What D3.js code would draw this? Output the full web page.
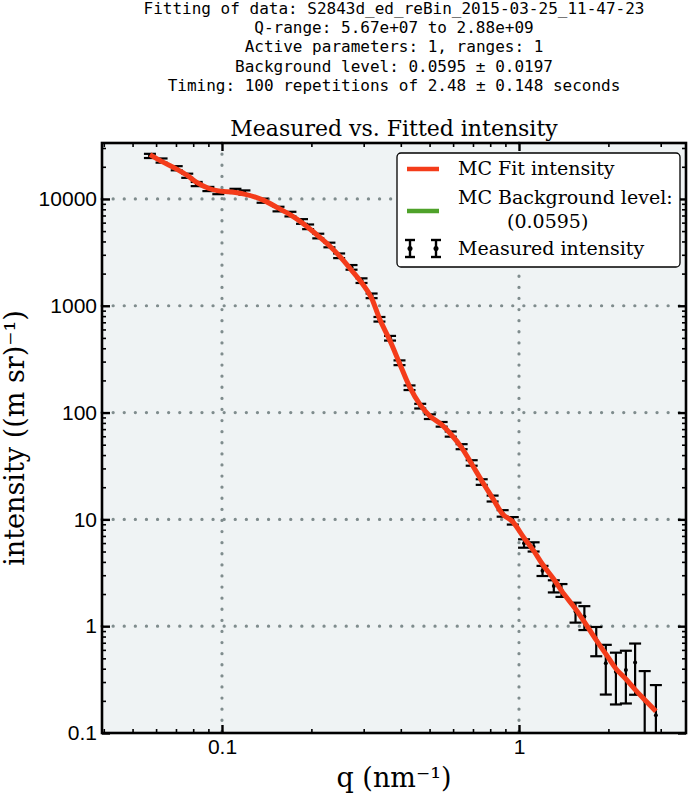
<!DOCTYPE html>
<html>
<head>
<meta charset="utf-8">
<script src="https://cdn.jsdelivr.net/npm/d3@7"></script>
<style>
body { margin: 0; background: #fff; }
</style>
</head>
<body>
<div id="chart"></div>
<script>

var headerLines = [
    "Fitting of data: S2843d_ed_reBin_2015-03-25_11-47-23",
    "Q-range: 5.67e+07 to 2.88e+09",
    "Active parameters: 1, ranges: 1",
    "Background level: 0.0595 \u00b1 0.0197",
    "Timing: 100 repetitions of 2.48 \u00b1 0.148 seconds"
];

// q in nm^-1
var qValues = [0.0572, 0.0626, 0.0704, 0.0764, 0.0822, 0.090, 0.0972, 0.111, 0.119, 0.137,
               0.155, 0.170, 0.186, 0.195, 0.211, 0.230, 0.248, 0.273, 0.295, 0.319,
               0.339, 0.368, 0.396, 0.428, 0.465, 0.501, 0.549, 0.589, 0.641, 0.693,
               0.749, 0.815, 0.881, 0.953, 1.04, 1.12, 1.20, 1.31, 1.39, 1.55,
               1.66, 1.82, 1.96, 2.12, 2.29, 2.46, 2.65, 2.89];
var measured = [25300, 22900, 19400, 16500, 13800, 12400, 11600, 11900, 11500, 9640,
                8050, 7220, 6160, 5490, 4500, 3710, 2940, 2290, 1720, 1240,
                748, 497, 293, 171, 115, 91.6, 77.7, 63, 48, 33.8,
                22.4, 15.7, 11.4, 9.72, 5.97, 5.55, 3.31, 2.38, 2.18, 1.37,
                1.23, 0.753, 0.449, 0.375, 0.389, 0.458, 0.20, 0.147];
var measuredErr = [1140, 1030, 870, 740, 620, 560, 520, 540, 520, 430,
                   400, 360, 310, 275, 225, 185, 147, 115, 86, 62,
                   37, 25, 15, 8.5, 5.8, 4.6, 3.9, 3.5, 2.6, 2.0,
                   1.35, 1.0, 0.8, 0.78, 0.54, 0.55, 0.36, 0.31, 0.30, 0.29,
                   0.31, 0.23, 0.22, 0.19, 0.20, 0.23, 0.18, 0.134];
var fitValues = [26000, 22500, 19000, 16600, 14300, 12600, 11900, 11500, 11100, 9800,
                 8200, 7100, 6000, 5400, 4500, 3650, 2950, 2150, 1650, 1180,
                 760, 470, 290, 175, 118, 93, 77, 63, 47, 33,
                 23, 15.8, 11.2, 9.5, 6.7, 5.1, 3.8, 2.75, 2.15, 1.45,
                 1.1, 0.74, 0.55, 0.40, 0.32, 0.255, 0.205, 0.16];
var backgroundLevel = 0.0595;

var xMajor = [0.1, 1];
var yMajor = [0.1, 1, 10, 100, 1000, 10000];

var W = 692, H = 794;
var plotLeft = 102, plotRight = 686, plotTop = 143, plotBottom = 733;
var red = "#f43c1a", green = "#4fa22a";
var serif = "'DejaVu Serif', serif";

var x = d3.scaleLog().domain([0.03945, 3.65]).range([plotLeft, plotRight]);
var y = d3.scaleLog().domain([0.1, 33400]).range([plotBottom, plotTop]);

var xMinor = x.ticks().filter(function(d) { return xMajor.indexOf(+d.toPrecision(6)) < 0; });
var yMinor = y.ticks().filter(function(d) { return yMajor.indexOf(+d.toPrecision(6)) < 0; });

var svg = d3.select("#chart").append("svg")
    .attr("width", W)
    .attr("height", H);

svg.append("defs").append("clipPath")
    .attr("id", "plotClip")
    .append("rect")
    .attr("x", plotLeft).attr("y", plotTop)
    .attr("width", plotRight - plotLeft).attr("height", plotBottom - plotTop);

// header block
svg.append("g")
    .selectAll("text")
    .data(headerLines)
    .enter().append("text")
    .attr("x", (plotLeft + plotRight) / 2)
    .attr("y", function(d, i) { return 14 + i * 19.2; })
    .attr("text-anchor", "middle")
    .style("font-family", "'DejaVu Sans Mono', monospace")
    .style("font-size", "16px")
    .text(function(d) { return d; });

svg.append("text")
    .attr("x", (plotLeft + plotRight) / 2)
    .attr("y", 136)
    .attr("text-anchor", "middle")
    .style("font-family", serif)
    .style("font-size", "22px")
    .text("Measured vs. Fitted intensity");

svg.append("rect")
    .attr("x", plotLeft).attr("y", plotTop)
    .attr("width", plotRight - plotLeft).attr("height", plotBottom - plotTop)
    .style("fill", "#eff3f4");

// dotted grid at the decades
var grid = svg.append("g")
    .style("stroke", "#7f8c8d")
    .style("stroke-width", 3.2)
    .style("stroke-linecap", "round")
    .style("stroke-dasharray", "0.1,11");
grid.selectAll(".gx").data(xMajor).enter().append("line")
    .attr("x1", function(d) { return x(d); }).attr("x2", function(d) { return x(d); })
    .attr("y1", plotTop).attr("y2", plotBottom);
grid.selectAll(".gy").data(yMajor.slice(1)).enter().append("line")
    .attr("y1", function(d) { return y(d); }).attr("y2", function(d) { return y(d); })
    .attr("x1", plotLeft).attr("x2", plotRight);

var plot = svg.append("g").attr("clip-path", "url(#plotClip)");

plot.append("line")
    .attr("x1", plotLeft).attr("x2", plotRight)
    .attr("y1", y(backgroundLevel)).attr("y2", y(backgroundLevel))
    .style("stroke", green)
    .style("stroke-width", 4);

// error bars of the measured data
var points = qValues.map(function(q, i) {
    return {q: q, v: measured[i], e: measuredErr[i]};
});
var bars = plot.append("g")
    .style("stroke", "#000")
    .style("stroke-width", 2.2);
bars.selectAll(".bar").data(points).enter().append("line")
    .attr("x1", function(d) { return x(d.q); }).attr("x2", function(d) { return x(d.q); })
    .attr("y1", function(d) { return y(d.v + d.e); })
    .attr("y2", function(d) { return y(Math.max(d.v - d.e, 0.01)); });
bars.selectAll(".capTop").data(points).enter().append("line")
    .attr("x1", function(d) { return x(d.q) - 6; }).attr("x2", function(d) { return x(d.q) + 6; })
    .attr("y1", function(d) { return y(d.v + d.e); }).attr("y2", function(d) { return y(d.v + d.e); });
bars.selectAll(".capBottom").data(points.filter(function(d) { return d.v - d.e > 0; })).enter().append("line")
    .attr("x1", function(d) { return x(d.q) - 6; }).attr("x2", function(d) { return x(d.q) + 6; })
    .attr("y1", function(d) { return y(d.v - d.e); }).attr("y2", function(d) { return y(d.v - d.e); });
plot.append("g").selectAll("circle").data(points).enter().append("circle")
    .attr("cx", function(d) { return x(d.q); })
    .attr("cy", function(d) { return y(d.v); })
    .attr("r", 2)
    .style("fill", "#000");

var fitLine = d3.line()
    .x(function(d, i) { return x(qValues[i]); })
    .y(function(d) { return y(d); })
    .curve(d3.curveMonotoneX);
plot.append("path")
    .datum(fitValues)
    .attr("d", fitLine)
    .style("fill", "none")
    .style("stroke", red)
    .style("stroke-width", 5)
    .style("stroke-linejoin", "round");

// axes, ticks pointing inward
function styleAxis(g, labels) {
    g.select(".domain").remove();
    g.selectAll(".tick line").style("stroke", "#000");
    g.selectAll("text")
        .style("font-family", "'Liberation Sans', Arial, sans-serif")
        .style("font-size", "21px")
        .style("fill", "#000");
    if (!labels) g.selectAll("text").remove();
}

var fmt = d3.format("~g");
var axes = [
    {axis: d3.axisBottom(x), t: "translate(0," + plotBottom + ")", major: xMajor, minor: xMinor, pad: 6, lab: true},
    {axis: d3.axisTop(x), t: "translate(0," + plotTop + ")", major: xMajor, minor: xMinor, pad: 6, lab: false},
    {axis: d3.axisLeft(y), t: "translate(" + plotLeft + ",0)", major: yMajor, minor: yMinor, pad: 5, lab: true},
    {axis: d3.axisRight(y), t: "translate(" + plotRight + ",0)", major: yMajor, minor: yMinor, pad: 5, lab: false}
];
axes.forEach(function(a) {
    var gMinor = svg.append("g").attr("transform", a.t)
        .call(a.axis.tickValues(a.minor).tickSizeInner(-4).tickSizeOuter(0).tickFormat(""));
    styleAxis(gMinor, false);
    gMinor.selectAll(".tick line").style("stroke-width", 1.6);
    var gMajor = svg.append("g").attr("transform", a.t)
        .call(a.axis.tickValues(a.major).tickSizeInner(-8).tickSizeOuter(0).tickPadding(a.pad).tickFormat(fmt));
    styleAxis(gMajor, a.lab);
    gMajor.selectAll(".tick line").style("stroke-width", 2.4);
});

svg.append("rect")
    .attr("x", plotLeft).attr("y", plotTop)
    .attr("width", plotRight - plotLeft).attr("height", plotBottom - plotTop)
    .style("fill", "none")
    .style("stroke", "#000")
    .style("stroke-width", 2.6);

// axis titles
svg.append("text")
    .attr("x", (plotLeft + plotRight) / 2)
    .attr("y", 787)
    .attr("text-anchor", "middle")
    .style("font-family", serif)
    .style("font-size", "27px")
    .text("q (nm\u207b\u00b9)");

svg.append("text")
    .attr("transform", "translate(24," + (plotTop + plotBottom) / 2 + ") rotate(-90)")
    .attr("text-anchor", "middle")
    .style("font-family", serif)
    .style("font-size", "27px")
    .text("intensity ((m sr)\u207b\u00b9)");

// legend
var lg = svg.append("g").style("font-family", serif).style("font-size", "19px");
lg.append("rect")
    .attr("x", 397).attr("y", 153)
    .attr("width", 283).attr("height", 114)
    .attr("rx", 4)
    .style("fill", "#fff")
    .style("stroke", "#000")
    .style("stroke-width", 1.3);
lg.append("line")
    .attr("x1", 407).attr("x2", 439).attr("y1", 169).attr("y2", 169)
    .style("stroke", red).style("stroke-width", 4.5);
lg.append("text").attr("x", 458).attr("y", 175).text("MC Fit intensity");
lg.append("line")
    .attr("x1", 407).attr("x2", 439).attr("y1", 211).attr("y2", 211)
    .style("stroke", green).style("stroke-width", 4.5);
lg.append("text").attr("x", 458).attr("y", 204).text("MC Background level:");
lg.append("text").attr("x", 507).attr("y", 228).text("(0.0595)");
[410, 436].forEach(function(cx) {
    var m = lg.append("g").style("stroke", "#000").style("stroke-width", 2.4);
    m.append("line").attr("x1", cx).attr("x2", cx).attr("y1", 240).attr("y2", 257);
    m.append("line").attr("x1", cx - 5).attr("x2", cx + 5).attr("y1", 240).attr("y2", 240);
    m.append("line").attr("x1", cx - 5).attr("x2", cx + 5).attr("y1", 257).attr("y2", 257);
    lg.append("circle").attr("cx", cx).attr("cy", 248.5).attr("r", 2.5).style("fill", "#000");
});
lg.append("text").attr("x", 458).attr("y", 255).text("Measured intensity");

</script>
</body>
</html>
